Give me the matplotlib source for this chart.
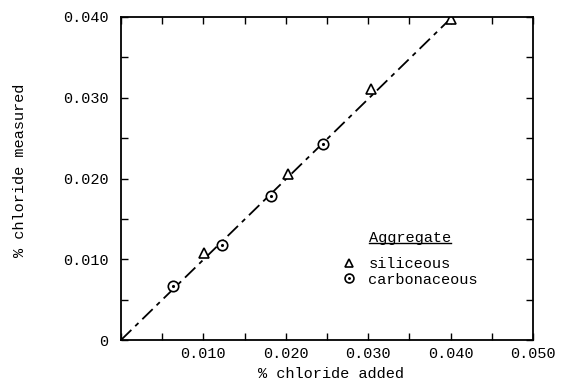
import matplotlib
matplotlib.use("Agg")
import matplotlib.pyplot as plt
from matplotlib.lines import Line2D
from matplotlib.legend_handler import HandlerTuple
from matplotlib.ticker import MultipleLocator, FixedLocator

plt.rcParams["font.family"] = ["Liberation Mono", "DejaVu Sans Mono"]

# data (% chloride added, % chloride measured)
siliceous_added = [0.0101, 0.0203, 0.0303, 0.0401]
siliceous_measured = [0.0108, 0.0205, 0.0311, 0.0397]
carbonaceous_added = [0.0063, 0.0123, 0.0182, 0.0245]
carbonaceous_measured = [0.0067, 0.0118, 0.0178, 0.0243]
fit_x = [0.0, 0.0402]
fit_y = [0.0, 0.0400]

x_ticks = [0.010, 0.020, 0.030, 0.040, 0.050]
x_labels = ["0.010", "0.020", "0.030", "0.040", "0.050"]
y_ticks = [0.0, 0.010, 0.020, 0.030, 0.040]
y_labels = ["0", "0.010", "0.020", "0.030", "0.040"]

W, H = 569, 386
fig = plt.figure(figsize=(W / 100, H / 100), dpi=100)
ax = fig.add_axes([121 / W, 46 / H, 412 / W, 323 / H])

ax.plot(fit_x, fit_y, color="black", lw=1.3, dashes=(8, 3, 2.5, 3))
tri, = ax.plot(siliceous_added, siliceous_measured, ls="none", marker="^",
               ms=7, mfc="white", mec="black", mew=1.2)
circ, = ax.plot(carbonaceous_added, carbonaceous_measured, ls="none", marker="o",
                ms=7.5, mfc="white", mec="black", mew=1.2)
dot, = ax.plot(carbonaceous_added, carbonaceous_measured, ls="none", marker=".",
               ms=2.5, color="black")

ax.set_xlim(0, 0.050)
ax.set_ylim(0, 0.040)
ax.xaxis.set_major_locator(FixedLocator(x_ticks))
ax.set_xticklabels(x_labels)
ax.yaxis.set_major_locator(FixedLocator(y_ticks))
ax.set_yticklabels(y_labels)
ax.xaxis.set_minor_locator(MultipleLocator(0.005))
ax.yaxis.set_minor_locator(MultipleLocator(0.005))
ax.tick_params(which="both", direction="in", top=True, right=True,
               length=5, width=1.0, labelsize=11)
ax.tick_params(axis="x", pad=5)
ax.tick_params(axis="y", pad=9)
for s in ax.spines.values():
    s.set_linewidth(1.3)

ax.set_xlabel("% chloride added", fontsize=11)
ax.set_ylabel("% chloride measured", fontsize=11)
ax.xaxis.set_label_coords(0.51, -0.085)
ax.yaxis.set_label_coords(-0.227, 0.525)

leg = ax.legend([tri, (circ, dot)], ["siliceous", "carbonaceous"],
                handler_map={tuple: HandlerTuple(ndivide=1)},
                loc="upper left", bbox_to_anchor=(343 / W, 1 - 257 / H),
                bbox_transform=fig.transFigure, borderpad=0, borderaxespad=0,
                frameon=False, fontsize=11, markerscale=0.85,
                handlelength=0.8, handletextpad=0.85, labelspacing=0.1)

title = fig.text(410 / W, 1 - 238 / H, "Aggregate", ha="center", va="center",
                 fontsize=11)

# underline the legend title
fig.canvas.draw()
bb = title.get_window_extent().transformed(fig.transFigure.inverted())
fig.add_artist(Line2D([bb.x0, bb.x1], [bb.y0 + 0.004, bb.y0 + 0.004],
                      color="black", lw=1.0, transform=fig.transFigure))

fig.savefig("out.png", dpi=100)
